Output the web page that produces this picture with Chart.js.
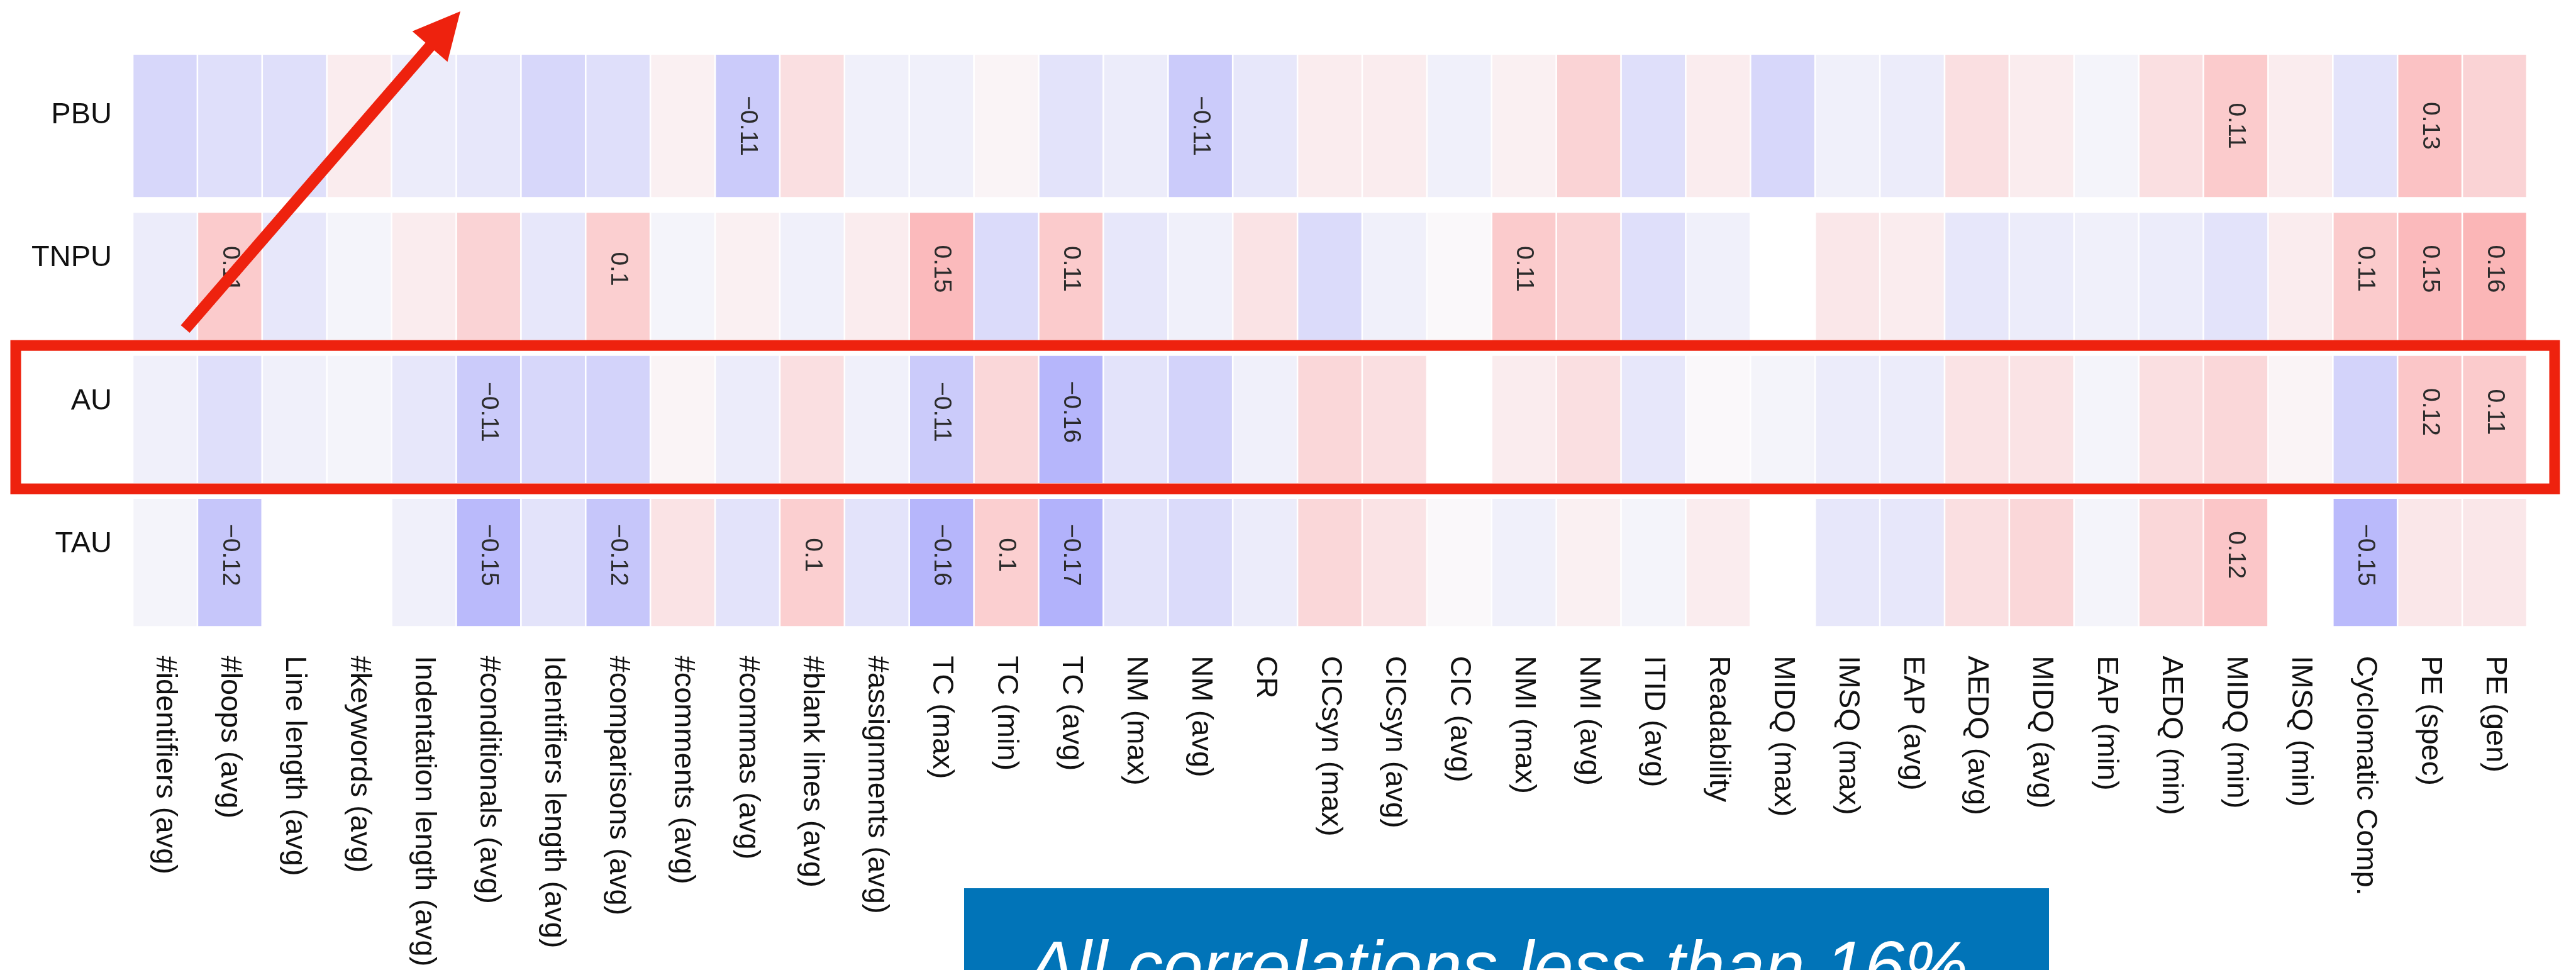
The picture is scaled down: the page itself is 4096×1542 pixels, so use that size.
<!DOCTYPE html>
<html>
<head>
<meta charset="utf-8">
<title>Correlation heatmap</title>
<script src="https://cdn.jsdelivr.net/npm/chart.js@4.4.1/dist/chart.umd.min.js"></script>
<style>
  html, body { margin: 0; padding: 0; background: #ffffff; overflow: hidden; }
  #wrap { width: 4096px; height: 1542px; position: relative; }
  canvas { display: block; }
</style>
</head>
<body>
<div id="wrap"><canvas id="heat" width="4096" height="1542"></canvas></div>
<script>
// ---- data -------------------------------------------------------------
const metrics = [
  '#identifiers (avg)', '#loops (avg)', 'Line length (avg)', '#keywords (avg)',
  'Indentation length (avg)', '#conditionals (avg)', 'Identifiers length (avg)',
  '#comparisons (avg)', '#comments (avg)', '#commas (avg)', '#blank lines (avg)',
  '#assignments (avg)', 'TC (max)', 'TC (min)', 'TC (avg)', 'NM (max)', 'NM (avg)',
  'CR', 'CICsyn (max)', 'CICsyn (avg)', 'CIC (avg)', 'NMI (max)', 'NMI (avg)',
  'ITID (avg)', 'Readability', 'MIDQ (max)', 'IMSQ (max)', 'EAP (avg)', 'AEDQ (avg)',
  'MIDQ (avg)', 'EAP (min)', 'AEDQ (min)', 'MIDQ (min)', 'IMSQ (min)',
  'Cyclomatic Comp.', 'PE (spec)', 'PE (gen)'
];

const groups = ['PBU', 'TNPU', 'AU', 'TAU'];

const pbu = [-0.08, -0.06, -0.06, 0.03, -0.03, -0.04, -0.08, -0.06, 0.02, -0.11,
  0.06, -0.02, -0.02, 0.01, -0.05, -0.03, -0.11, -0.04, 0.03, 0.03, -0.02, 0.02,
  0.09, -0.06, 0.03, -0.08, -0.02, -0.03, 0.06, 0.03, -0.01, 0.06, 0.11, 0.03,
  -0.05, 0.13, 0.09];

const tnpu = [-0.03, 0.11, -0.04, -0.01, 0.03, 0.09, -0.04, 0.1, -0.01, 0.02,
  -0.02, 0.03, 0.15, -0.07, 0.11, -0.04, -0.02, 0.05, -0.07, -0.02, 0.0, 0.11,
  0.09, -0.06, -0.02, null, 0.04, 0.03, -0.04, -0.03, -0.02, -0.03, -0.05, 0.03,
  0.11, 0.15, 0.16];

const au = [-0.02, -0.06, -0.02, -0.01, -0.04, -0.11, -0.08, -0.09, 0.01, -0.03,
  0.06, -0.02, -0.11, 0.08, -0.16, -0.05, -0.09, -0.02, 0.08, 0.06, null, 0.03,
  0.06, -0.04, 0.0, -0.01, -0.03, -0.03, 0.05, 0.05, -0.01, 0.06, 0.08, 0.01,
  -0.09, 0.12, 0.11];

const tau = [-0.01, -0.12, null, null, -0.02, -0.15, -0.05, -0.12, 0.05, -0.05,
  0.1, -0.05, -0.16, 0.1, -0.17, -0.05, -0.07, -0.03, 0.08, 0.05, 0.0, -0.02,
  0.02, -0.01, 0.03, null, -0.04, -0.04, 0.06, 0.08, -0.01, 0.08, 0.12, null,
  -0.15, 0.04, 0.04];

const rows = [pbu, tnpu, au, tau];

// ---- layout / style ---------------------------------------------------
const FONT = "'Liberation Sans', Arial, Helvetica, sans-serif";
const CELL = 0.89;        // filled share of each row band
const TOP_EXTRA = 0.105;  // first band reaches a little higher
const LABEL_MIN = 0.1;    // values at or beyond this magnitude get printed

// row r (top to bottom) sits on band level (n-1-r) of the y scale
const levelOf = r => rows.length - 1 - r;

function cellColor(v) {
  if (v === null) return 'rgba(0,0,0,0)';
  const t = Math.min(Math.abs(v) / 0.6, 1);
  const fade = Math.round(248 * (1 - t));
  return v < 0
    ? `rgb(${fade},${fade},${Math.round(250 + 2 * t)})`
    : `rgb(${Math.round(250 + 3 * t)},${fade},${Math.round(250 * (1 - t))})`;
}

const fmt = v => (v < 0 ? '\u2212' : '') + String(Math.abs(v));

// ---- plugins ----------------------------------------------------------
const cellValues = {
  id: 'cellValues',
  afterDatasetsDraw(chart) {
    const { ctx } = chart;
    const ys = chart.scales.y;
    ctx.save();
    ctx.font = `39px ${FONT}`;
    ctx.fillStyle = '#2b2b2b';
    ctx.textAlign = 'center';
    ctx.textBaseline = 'middle';
    rows.forEach((vals, r) => {
      const meta = chart.getDatasetMeta(r);
      const cy = ys.getPixelForValue(levelOf(r) + CELL / 2) - 12;
      vals.forEach((v, i) => {
        if (v === null || Math.abs(v) < LABEL_MIN - 1e-9) return;
        const bar = meta.data[i];
        ctx.save();
        ctx.translate(bar.x, cy);
        ctx.rotate(Math.PI / 2);
        ctx.fillText(fmt(v), 0, 0);
        ctx.restore();
      });
    });
    ctx.restore();
  }
};

const axisText = {
  id: 'axisText',
  afterDraw(chart) {
    const { ctx, chartArea } = chart;
    const xs = chart.scales.x;
    const ys = chart.scales.y;
    ctx.save();
    ctx.fillStyle = '#111111';
    ctx.font = `47px ${FONT}`;

    // group names on the left
    ctx.textAlign = 'right';
    ctx.textBaseline = 'middle';
    groups.forEach((g, r) => {
      const y = ys.getPixelForValue(levelOf(r) + CELL / 2) - 29;
      ctx.fillText(g, chartArea.left - 33, y);
    });

    // metric names under the columns, turned to read downwards
    ctx.textAlign = 'left';
    metrics.forEach((m, i) => {
      const x = xs.getPixelForValue(i);
      ctx.save();
      ctx.translate(x, chartArea.bottom + 47);
      ctx.rotate(Math.PI / 2);
      ctx.fillText(m, 0, 0);
      ctx.restore();
    });
    ctx.restore();
  }
};

const callouts = {
  id: 'callouts',
  afterDraw(chart) {
    const { ctx, chartArea } = chart;
    const ys = chart.scales.y;
    const red = 'rgb(238,34,14)';
    ctx.save();

    // frame around the AU row
    const auLevel = levelOf(groups.indexOf('AU'));
    const top = ys.getPixelForValue(auLevel + CELL) - 16.5;
    const bottom = ys.getPixelForValue(auLevel) + 9;
    ctx.strokeStyle = red;
    ctx.lineWidth = 17;
    ctx.lineJoin = 'miter';
    ctx.strokeRect(25, top, chartArea.right + 44 - 25, bottom - top);

    // arrow pointing up and to the right
    const tail = { x: 294.5, y: 523 };
    const tip = { x: 732, y: 18 };
    const dx = tip.x - tail.x, dy = tip.y - tail.y;
    const len = Math.hypot(dx, dy);
    const ux = dx / len, uy = dy / len;
    const headLen = 74, headHalf = 37;
    const bx = tip.x - ux * headLen, by = tip.y - uy * headLen;
    ctx.lineWidth = 18.5;
    ctx.lineCap = 'butt';
    ctx.beginPath();
    ctx.moveTo(tail.x, tail.y);
    ctx.lineTo(bx + ux * 10, by + uy * 10);
    ctx.stroke();
    ctx.fillStyle = red;
    ctx.beginPath();
    ctx.moveTo(tip.x, tip.y);
    ctx.lineTo(bx - uy * headHalf, by + ux * headHalf);
    ctx.lineTo(bx + uy * headHalf, by - ux * headHalf);
    ctx.closePath();
    ctx.fill();

    // note box along the bottom edge
    ctx.fillStyle = 'rgb(1,116,184)';
    ctx.fillRect(1533, 1412, 3258 - 1533, 200);
    ctx.fillStyle = '#ffffff';
    ctx.font = `italic 114px ${FONT}`;
    ctx.textAlign = 'left';
    ctx.textBaseline = 'alphabetic';
    ctx.fillText('All correlations less than 16%', 1634, 1575);
    ctx.restore();
  }
};

// ---- chart ------------------------------------------------------------
const datasets = rows.map((vals, r) => {
  const lo = levelOf(r);
  const hi = lo + CELL + (r === 0 ? TOP_EXTRA : 0);
  return {
    label: groups[r],
    data: vals.map(v => (v === null ? null : [lo, hi])),
    backgroundColor: vals.map(cellColor),
    borderWidth: 0,
    grouped: false,
    categoryPercentage: 1,
    barPercentage: 0.975
  };
});

new Chart(document.getElementById('heat'), {
  type: 'bar',
  data: { labels: metrics, datasets },
  options: {
    responsive: false,
    animation: false,
    devicePixelRatio: 1,
    layout: { padding: { left: 211, right: 78, top: 87, bottom: 546.5 } },
    scales: {
      x: { display: false, offset: true },
      y: { display: false, min: 0, max: rows.length - 1 + CELL + TOP_EXTRA }
    },
    plugins: {
      legend: { display: false },
      tooltip: { enabled: false }
    }
  },
  plugins: [cellValues, axisText, callouts]
});
</script>
</body>
</html>
